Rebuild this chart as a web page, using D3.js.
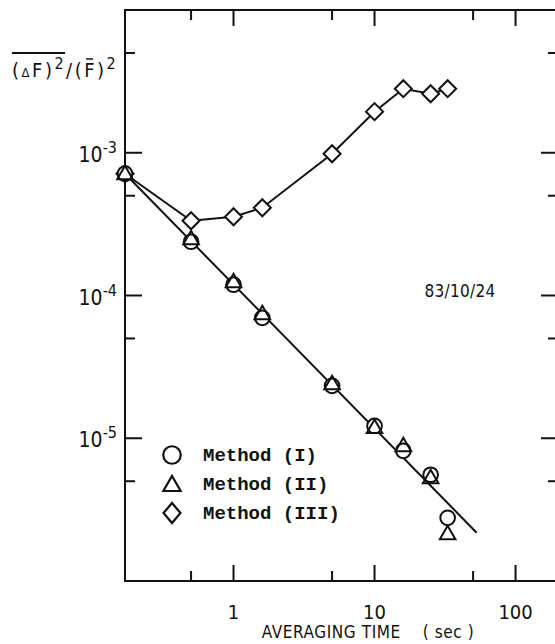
<!DOCTYPE html>
<html>
<head>
<meta charset="utf-8">
<script src="https://cdn.jsdelivr.net/npm/d3@7/dist/d3.min.js"></script>
<style>
  body { margin: 0; background: #fff; }
  svg { display: block; }
  .lbl { font-family: "DejaVu Sans Condensed", "Liberation Sans Narrow", sans-serif; fill: #111; }
  .leg { font-family: "Liberation Mono", "DejaVu Sans Mono", monospace; font-weight: bold; fill: #111; }
</style>
</head>
<body>
<div id="chart"></div>
<script>
// Averaging time (sec)
var times = [0.17, 0.5, 1, 1.6, 5, 10, 16, 25, 33];

// Relative variance for each method
var method1 = [7.13e-4, 2.38e-4, 1.19e-4, 6.98e-5, 2.33e-5, 1.22e-5, 8.17e-6, 5.55e-6, 2.77e-6];
var method2 = [7.13e-4, 2.50e-4, 1.25e-4, 7.45e-5, 2.41e-5, 1.19e-5, 8.85e-6, 5.29e-6, 2.14e-6];
var method3 = [7.13e-4, 3.34e-4, 3.56e-4, 4.12e-4, 9.84e-4, 1.94e-3, 2.81e-3, 2.59e-3, 2.81e-3];

// Fitted straight line (slope -1 on log-log)
var fitTimes = [0.17, 53];
var fitValues = [7.13e-4, 2.18e-6];

var xMajor = [1, 10, 100];
var xMinor = [0.5, 5, 50];
var yMajor = [1e-5, 1e-4, 1e-3];
var yMinor = [5e-6, 5e-5, 5e-4, 5e-3];

var legendNames = ['Method (I)', 'Method (II)', 'Method (III)'];
var dateLabel = '83/10/24';

(function () {
  var width = 555, height = 644;
  var mLeft = 125, mRight = 558, mTop = 10, mBottom = 581;

  var x = d3.scaleLog().domain([0.17, 200]).range([mLeft, mRight]);
  var y = d3.scaleLog().domain([1e-6, 1e-2]).range([mBottom, mTop]);

  var svg = d3.select('#chart').append('svg')
    .attr('width', width)
    .attr('height', height);

  var ink = '#111';

  // Frame
  svg.append('rect')
    .attr('x', mLeft).attr('y', mTop)
    .attr('width', mRight - mLeft).attr('height', mBottom - mTop)
    .attr('fill', 'none')
    .attr('stroke', ink)
    .attr('stroke-width', 2);

  // Ticks on all four sides, pointing inwards
  var ticks = svg.append('g').attr('stroke', ink).attr('stroke-width', 2);
  function xTicks(vals, len) {
    vals.forEach(function (v) {
      ticks.append('line').attr('x1', x(v)).attr('x2', x(v))
        .attr('y1', mBottom).attr('y2', mBottom - len);
      ticks.append('line').attr('x1', x(v)).attr('x2', x(v))
        .attr('y1', mTop).attr('y2', mTop + len);
    });
  }
  function yTicks(vals, len) {
    vals.forEach(function (v) {
      ticks.append('line').attr('y1', y(v)).attr('y2', y(v))
        .attr('x1', mLeft).attr('x2', mLeft + len);
      ticks.append('line').attr('y1', y(v)).attr('y2', y(v))
        .attr('x1', mRight).attr('x2', mRight - len);
    });
  }
  xTicks(xMajor, 16);
  xTicks(xMinor, 10);
  yTicks(yMajor, 17);
  yTicks(yMinor, 10);

  // X tick labels
  svg.append('g').selectAll('text')
    .data(xMajor)
    .enter()
    .append('text')
    .attr('class', 'lbl')
    .attr('x', function (d) { return x(d); })
    .attr('y', 619)
    .attr('text-anchor', 'middle')
    .attr('font-size', 20)
    .text(function (d) { return d; });

  // Y tick labels as powers of ten
  var yl = svg.append('g').selectAll('text')
    .data(yMajor)
    .enter()
    .append('text')
    .attr('class', 'lbl')
    .attr('x', 117)
    .attr('y', function (d) { return y(d) + 9; })
    .attr('text-anchor', 'end')
    .attr('font-size', 21);
  yl.append('tspan').text('10');
  yl.append('tspan')
    .attr('dy', -9)
    .attr('font-size', 16)
    .text(function (d) { return '-' + Math.round(-Math.log10(d)); });

  // X axis title
  svg.append('text')
    .attr('class', 'lbl')
    .attr('x', 368)
    .attr('y', 638)
    .attr('text-anchor', 'middle')
    .attr('font-size', 17)
    .attr('letter-spacing', 0.6)
    .attr('xml:space', 'preserve')
    .text('AVERAGING TIME    ( sec )');

  // Y axis title: overline((dF)^2) / (Fbar)^2
  var yt = svg.append('text')
    .attr('class', 'lbl')
    .attr('x', 12)
    .attr('y', 77)
    .attr('font-size', 20)
    .attr('letter-spacing', 2.5);
  yt.append('tspan').text('(');
  yt.append('tspan').attr('font-size', 13).text('\u0394');
  yt.append('tspan').text('F)');
  yt.append('tspan').attr('dy', -8).attr('font-size', 16).text('2');
  yt.append('tspan').attr('dy', 8).text('/(');
  yt.append('tspan').text('F');
  yt.append('tspan').text(')');
  yt.append('tspan').attr('dy', -8).attr('font-size', 16).text('2');

  var node = yt.node();
  var e0 = node.getExtentOfChar(0);
  var e4 = node.getExtentOfChar(4);
  svg.append('line')
    .attr('x1', e0.x).attr('x2', e4.x + e4.width - 1)
    .attr('y1', 53).attr('y2', 53)
    .attr('stroke', ink).attr('stroke-width', 2);
  var eF = node.getExtentOfChar(7);
  svg.append('line')
    .attr('x1', eF.x + 2).attr('x2', eF.x + eF.width - 4)
    .attr('y1', 59).attr('y2', 59)
    .attr('stroke', ink).attr('stroke-width', 1.5);

  // Date note
  svg.append('text')
    .attr('class', 'lbl')
    .attr('x', 460)
    .attr('y', 297)
    .attr('text-anchor', 'middle')
    .attr('font-size', 17)
    .attr('letter-spacing', 0.3)
    .text(dateLabel);

  // Lines
  var line = d3.line()
    .x(function (d) { return x(d[0]); })
    .y(function (d) { return y(d[1]); });

  svg.append('path')
    .datum(d3.zip(fitTimes, fitValues))
    .attr('d', line)
    .attr('fill', 'none')
    .attr('stroke', ink)
    .attr('stroke-width', 2);

  svg.append('path')
    .datum(d3.zip(times, method3))
    .attr('d', line)
    .attr('fill', 'none')
    .attr('stroke', ink)
    .attr('stroke-width', 2);

  // Markers
  var symCircle = d3.symbol().type(d3.symbolCircle).size(170);
  var symTriangle = d3.symbol().type(d3.symbolTriangle).size(105);
  function symDiamond(s) {
    return 'M0,' + (-s) + 'L' + s + ',0L0,' + s + 'L' + (-s) + ',0Z';
  }

  function drawMarkers(values, pathFn, fill, dy) {
    svg.append('g').selectAll('path')
      .data(d3.zip(times, values))
      .enter()
      .append('path')
      .attr('transform', function (d) { return 'translate(' + x(d[0]) + ',' + (y(d[1]) + dy) + ')'; })
      .attr('d', pathFn)
      .attr('fill', fill)
      .attr('stroke', ink)
      .attr('stroke-width', 2);
  }
  drawMarkers(method3, function () { return symDiamond(8.5); }, '#fff', 0);
  drawMarkers(method1, symCircle, '#fff', 0);
  drawMarkers(method2, symTriangle, 'none', 1);

  // Legend
  var legendRows = [455, 484, 513];
  var legendSyms = [
    d3.symbol().type(d3.symbolCircle).size(240)(),
    d3.symbol().type(d3.symbolTriangle).size(130)(),
    'M0,-10L8.5,0L0,10L-8.5,0Z'
  ];
  var leg = svg.append('g');
  legendNames.forEach(function (name, i) {
    leg.append('path')
      .attr('transform', 'translate(172,' + (legendRows[i] + (i === 1 ? 2 : 0)) + ')')
      .attr('d', legendSyms[i])
      .attr('fill', 'none')
      .attr('stroke', ink)
      .attr('stroke-width', 2.2);
    leg.append('text')
      .attr('class', 'leg')
      .attr('x', 203)
      .attr('y', legendRows[i] + 6)
      .attr('font-size', 19)
      .text(name);
  });
})();
</script>
</body>
</html>
